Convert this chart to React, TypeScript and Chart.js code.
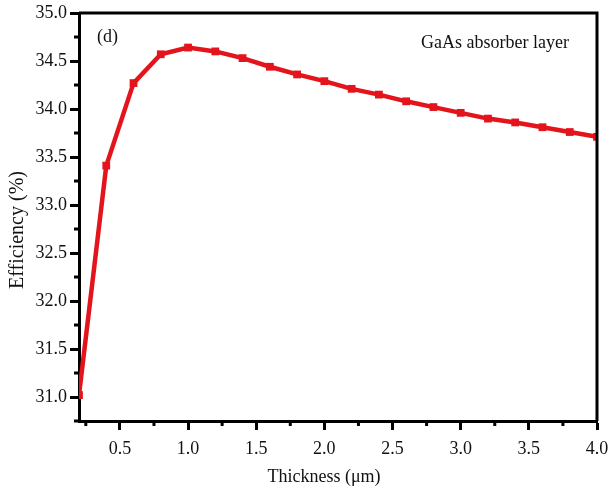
import React, { useEffect, useRef } from "react";
import { Chart, registerables } from "chart.js";

Chart.register(...registerables);

const thickness = [0.2, 0.4, 0.6, 0.8, 1.0, 1.2, 1.4, 1.6, 1.8, 2.0, 2.2, 2.4, 2.6, 2.8, 3.0, 3.2, 3.4, 3.6, 3.8, 4.0];
const efficiency = [31.02, 33.41, 34.27, 34.57, 34.64, 34.6, 34.53, 34.44, 34.36, 34.29, 34.21, 34.15, 34.08, 34.02, 33.96, 33.9, 33.86, 33.81, 33.76, 33.71];
const xTicks = [0.5, 1.0, 1.5, 2.0, 2.5, 3.0, 3.5, 4.0];
const xMinorTicks = [0.25, 0.75, 1.25, 1.75, 2.25, 2.75, 3.25, 3.75];
const yTicks = [31.0, 31.5, 32.0, 32.5, 33.0, 33.5, 34.0, 34.5, 35.0];
const yMinorTicks = [30.75, 31.25, 31.75, 32.25, 32.75, 33.25, 33.75, 34.25, 34.75];

const xTitle = "Thickness (μm)";
const yTitle = "Efficiency (%)";
const panelLabel = "(d)";
const noteLabel = "GaAs absorber layer";

const FONT = "'Liberation Serif', 'DejaVu Serif', serif";
const RED = "#e3141c";
const TEXT = "#111";

const framePlugin = {
  id: "frameAndText",
  afterDraw(chart: any) {
    const { ctx, chartArea, scales } = chart;
    const { left, right, top, bottom } = chartArea;
    ctx.save();
    ctx.strokeStyle = "#000";
    ctx.lineWidth = 3;
    ctx.beginPath();
    ctx.moveTo(left, top);
    ctx.lineTo(right, top);
    ctx.lineTo(right, bottom);
    ctx.stroke();
    // minor ticks
    ctx.lineWidth = 3;
    ctx.beginPath();
    xMinorTicks.forEach((v) => {
      const px = scales.x.getPixelForValue(v);
      ctx.moveTo(px, bottom);
      ctx.lineTo(px, bottom + 5);
    });
    yMinorTicks.forEach((v) => {
      const py = scales.y.getPixelForValue(v);
      ctx.moveTo(left, py);
      ctx.lineTo(left - 5, py);
    });
    ctx.stroke();
    // texts
    ctx.fillStyle = TEXT;
    ctx.textBaseline = "middle";
    ctx.textAlign = "left";
    ctx.font = `18px ${FONT}`;
    ctx.fillText(panelLabel, 97, 37);
    ctx.font = `18px ${FONT}`;
    ctx.fillText(noteLabel, 421, 43);
    ctx.font = `18px ${FONT}`;
    ctx.textAlign = "center";
    ctx.fillText(xTitle, 324, 477);
    ctx.font = `20px ${FONT}`;
    ctx.translate(18, 230);
    ctx.rotate(-Math.PI / 2);
    ctx.fillText(yTitle, 0, 0);
    ctx.restore();
  },
};

export default function App() {
  const ref = useRef<HTMLCanvasElement>(null);
  useEffect(() => {
    if (!ref.current) return;
    const chart = new Chart(ref.current, {
      type: "line",
      data: {
        datasets: [
          {
            data: thickness.map((t, i) => ({ x: t, y: efficiency[i] })),
            borderColor: RED,
            backgroundColor: RED,
            borderWidth: 4.5,
            pointStyle: "rect",
            pointRadius: 5.5,
            pointBackgroundColor: RED,
            pointBorderWidth: 0,
            tension: 0,
          },
        ],
      },
      options: {
        animation: false,
        responsive: false,
        layout: { padding: { top: 13, right: 15, left: 0, bottom: 0 } },
        plugins: { legend: { display: false }, tooltip: { enabled: false } },
        scales: {
          x: {
            type: "linear",
            min: 0.2,
            max: 4.0,
            afterBuildTicks: (scale: any) => {
              scale.ticks = xTicks.map((v) => ({ value: v }));
            },
            afterFit: (scale: any) => {
              scale.height = 71;
              scale.paddingLeft = 0;
              scale.paddingRight = 0;
            },
            ticks: {
              callback: (v: any) => Number(v).toFixed(1),
              font: { family: FONT, size: 18 },
              color: TEXT,
              padding: 8,
              maxRotation: 0,
            },
            grid: { drawOnChartArea: false, tickLength: 9, tickWidth: 3, tickColor: "#000" },
            border: { width: 3, color: "#000" },
          },
          y: {
            type: "linear",
            min: 30.75,
            max: 35.0,
            afterBuildTicks: (scale: any) => {
              scale.ticks = yTicks.map((v) => ({ value: v }));
            },
            afterFit: (scale: any) => {
              scale.width = 79;
              scale.paddingTop = 0;
              scale.paddingBottom = 0;
            },
            ticks: {
              callback: (v: any) => Number(v).toFixed(1),
              font: { family: FONT, size: 18 },
              color: TEXT,
              padding: 3,
            },
            grid: { drawOnChartArea: false, tickLength: 9, tickWidth: 3, tickColor: "#000" },
            border: { width: 3, color: "#000" },
          },
        },
      },
      plugins: [framePlugin],
    });
    return () => chart.destroy();
  }, []);
  return (
    <div style={{ position: "fixed", left: 0, top: 0, width: 612, height: 492, background: "#fff" }}>
      <canvas ref={ref} width={612} height={492} style={{ width: 612, height: 492 }} />
    </div>
  );
}
